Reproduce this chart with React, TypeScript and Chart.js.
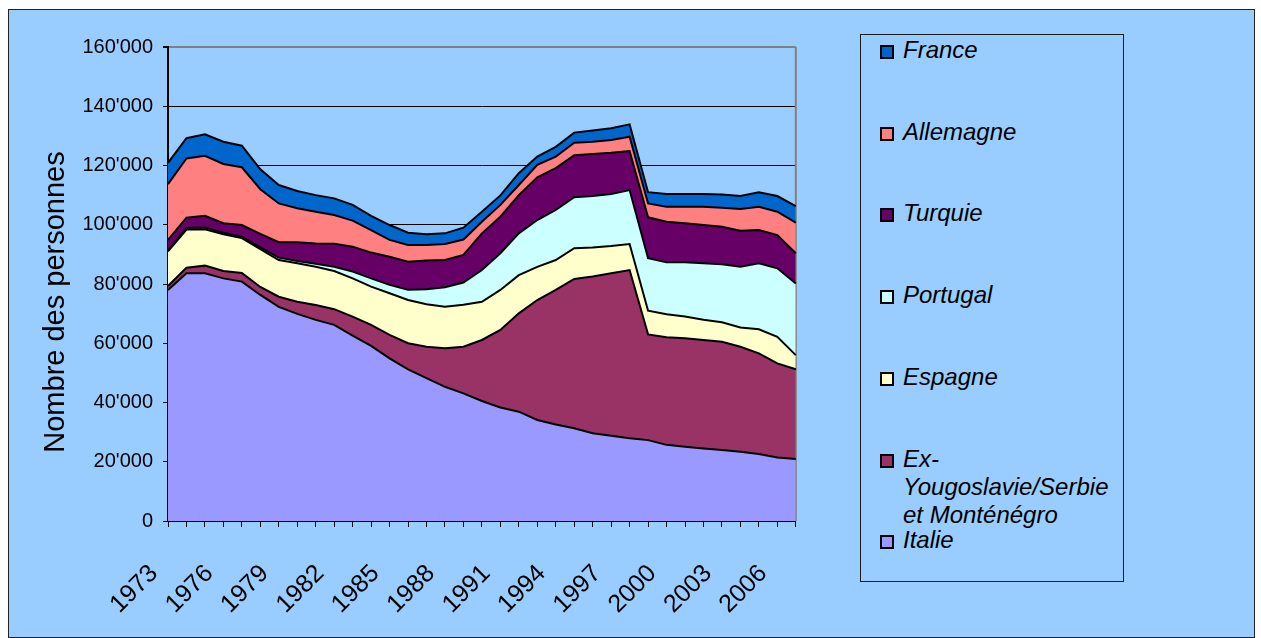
import React, { useEffect, useRef } from 'react';
import { Chart, registerables } from 'chart.js';

Chart.register(...registerables);

const YEARS = ['1973','1974','1975','1976','1977','1978','1979','1980','1981','1982','1983','1984','1985','1986','1987','1988','1989','1990','1991','1992','1993','1994','1995','1996','1997','1998','1999','2000','2001','2002','2003','2004','2005','2006','2007'];

const ITALIE = [78000, 83600, 83600, 81900, 80800, 76300, 72300, 69900, 67900, 66200, 62600, 59100, 54900, 51200, 48200, 45300, 43100, 40500, 38300, 36900, 34100, 32600, 31300, 29600, 28800, 27900, 27300, 25700, 25100, 24500, 24000, 23400, 22600, 21400, 20900];
const EX_YOUGOSLAVIE = [1300, 1900, 2600, 2500, 2900, 2700, 3400, 4100, 5000, 5300, 6400, 7100, 7900, 8800, 10600, 13000, 15700, 20600, 26200, 33200, 40500, 45400, 50400, 52900, 54800, 56800, 35700, 36300, 36600, 36600, 36500, 35400, 34000, 31800, 30300];
const ESPAGNE = [11700, 12900, 12300, 12400, 11800, 12800, 12400, 13000, 12900, 12900, 12900, 12900, 14100, 14600, 14400, 14000, 14200, 12900, 13500, 12900, 11200, 10100, 10400, 9800, 9200, 8800, 8000, 7800, 7300, 6800, 6600, 6500, 8100, 9000, 4800];
const PORTUGAL = [300, 500, 600, 500, 500, 600, 800, 800, 1000, 1400, 2300, 2800, 2800, 3500, 5000, 6600, 7500, 10700, 12400, 14100, 15800, 16900, 17200, 17400, 17600, 18200, 17700, 17500, 18300, 19100, 19600, 20500, 22300, 23100, 24200];
const TURQUIE = [3600, 3500, 3900, 3200, 3900, 4500, 5200, 6300, 6900, 7800, 8400, 8700, 9500, 9400, 9700, 9200, 9300, 12400, 12300, 12900, 14400, 14100, 14200, 14200, 13900, 13200, 13800, 13700, 13200, 12900, 12600, 12200, 11200, 11200, 10200];
const ALLEMAGNE = [18800, 20000, 20300, 20000, 19500, 15100, 13100, 11500, 10700, 9700, 8800, 7600, 5700, 5700, 5300, 5400, 5200, 3900, 4000, 3400, 4200, 3900, 4200, 4100, 4300, 4800, 4700, 5100, 5600, 6200, 6400, 7300, 7900, 7900, 10300];
const FRANCE = [7200, 6800, 7200, 7500, 7300, 6700, 6200, 5800, 5600, 5600, 5300, 4800, 5000, 4100, 3600, 3600, 4000, 3400, 3200, 4000, 2800, 3300, 3400, 3800, 4000, 4200, 3800, 4300, 4300, 4300, 4500, 4400, 4900, 5300, 5600];

// stacking order: bottom to top
const SERIES_DATA = [ITALIE, EX_YOUGOSLAVIE, ESPAGNE, PORTUGAL, TURQUIE, ALLEMAGNE, FRANCE];
const SERIES_NAMES = ['Italie', 'Ex-Yougoslavie/Serbie et Monténégro', 'Espagne', 'Portugal', 'Turquie', 'Allemagne', 'France'];
const LEGEND_TEXT = ['Italie', 'Ex-\nYougoslavie/Serbie\net Monténégro', 'Espagne', 'Portugal', 'Turquie', 'Allemagne', 'France'];
const SERIES_COLORS = ['#9999FF', '#993366', '#FFFFCC', '#CCFFFF', '#660066', '#FF8080', '#0066CC'];

const Y_MIN = 0;
const Y_MAX = 160000;
const Y_STEP = 20000;
const Y_TITLE = 'Nombre des personnes';
const X_LABEL_EVERY = 3;

const BG = '#99CCFF';
const FONT = '"Liberation Sans", Arial, sans-serif';

const formatTick = (v: number) => (v === 0 ? '0' : `${Math.round(v / 1000)}'000`);

const decorPlugin = {
  id: 'decor',
  beforeDatasetsDraw(chart: any) {
    const { ctx, chartArea } = chart;
    ctx.save();
    ctx.strokeStyle = '#808080';
    ctx.lineWidth = 2;
    ctx.beginPath();
    ctx.moveTo(chartArea.right, chartArea.top);
    ctx.lineTo(chartArea.right, chartArea.bottom);
    ctx.stroke();
    ctx.restore();
  },
  afterDraw(chart: any) {
    const { ctx, chartArea } = chart;
    ctx.save();
    ctx.translate(chartArea.left - 112, (chartArea.top + chartArea.bottom) / 2 + 18);
    ctx.rotate(-Math.PI / 2);
    ctx.font = `29px ${FONT}`;
    ctx.fillStyle = '#000';
    ctx.textAlign = 'center';
    ctx.textBaseline = 'middle';
    ctx.fillText(Y_TITLE, 0, 0);
    ctx.restore();
  },
};

function ChartCanvas() {
  const ref = useRef<HTMLCanvasElement | null>(null);
  useEffect(() => {
    if (!ref.current) return;
    const chart = new Chart(ref.current, {
      type: 'line',
      data: {
        labels: YEARS,
        datasets: SERIES_DATA.map((data, i) => ({
          label: SERIES_NAMES[i],
          data,
          backgroundColor: SERIES_COLORS[i],
          borderColor: '#000',
          borderWidth: 2,
          pointRadius: 0,
          pointHoverRadius: 0,
          tension: 0,
          fill: i === 0 ? 'origin' : '-1',
        })),
      },
      options: {
        responsive: false,
        animation: false,
        events: [],
        layout: { padding: { top: 37, right: 51, left: 0, bottom: 0 } },
        plugins: { legend: { display: false }, tooltip: { enabled: false }, title: { display: false } },
        scales: {
          x: {
            type: 'category',
            offset: false,
            afterFit: (s: any) => { s.height = 109; },
            grid: { drawOnChartArea: false, drawTicks: true, tickLength: 6, color: '#000', lineWidth: 1 },
            border: { color: '#000', width: 2 },
            ticks: {
              autoSkip: false,
              maxRotation: 45,
              minRotation: 45,
              padding: 32,
              labelOffset: -14,
              color: '#000',
              font: { family: FONT, size: 25 },
              callback: (_v: any, idx: number) => (idx % X_LABEL_EVERY === 0 ? YEARS[idx] : ''),
            },
          },
          y: {
            stacked: true,
            min: Y_MIN,
            max: Y_MAX,
            afterFit: (s: any) => { s.width = 159; },
            grid: {
              color: (c: any) => (c.tick && c.tick.value === Y_MAX ? '#808080' : '#000'),
              lineWidth: (c: any) => (c.tick && c.tick.value === Y_MAX ? 2 : 1),
              tickColor: '#000',
              tickLength: 5,
            },
            border: { color: '#000', width: 2 },
            ticks: {
              stepSize: Y_STEP,
              padding: 10,
              color: '#000',
              font: { family: FONT, size: 20 },
              callback: (v: any) => formatTick(Number(v)),
            },
          },
        },
      },
      plugins: [decorPlugin],
    } as any);
    return () => chart.destroy();
  }, []);
  return <canvas ref={ref} width={840} height={620} style={{ position: 'absolute', left: 0, top: 0, display: 'block' }} />;
}

function Legend() {
  const order = [6, 5, 4, 3, 2, 1, 0];
  return (
    <div style={{ position: 'absolute', left: 851, top: 24, width: 264, height: 548, boxSizing: 'border-box', border: '1px solid #1a1a1a' }}>
      {order.map((idx, k) => (
        <div key={idx} style={{ position: 'absolute', left: 0, top: 1 + k * 81.7, width: 262 }}>
          <div style={{ position: 'absolute', left: 19, top: 9, width: 14, height: 14, boxSizing: 'border-box', border: '2px solid #000', background: SERIES_COLORS[idx] }} />
          <div style={{ position: 'absolute', left: 42, top: 0, whiteSpace: 'pre', font: `italic 24px/28px ${FONT}`, color: '#000' }}>
            {LEGEND_TEXT[idx]}
          </div>
        </div>
      ))}
    </div>
  );
}

export default function App() {
  return (
    <div style={{ position: 'absolute', left: 8, top: 9, width: 1247, height: 629, boxSizing: 'border-box', border: '1px solid #222', background: BG }}>
      <ChartCanvas />
      <Legend />
    </div>
  );
}
